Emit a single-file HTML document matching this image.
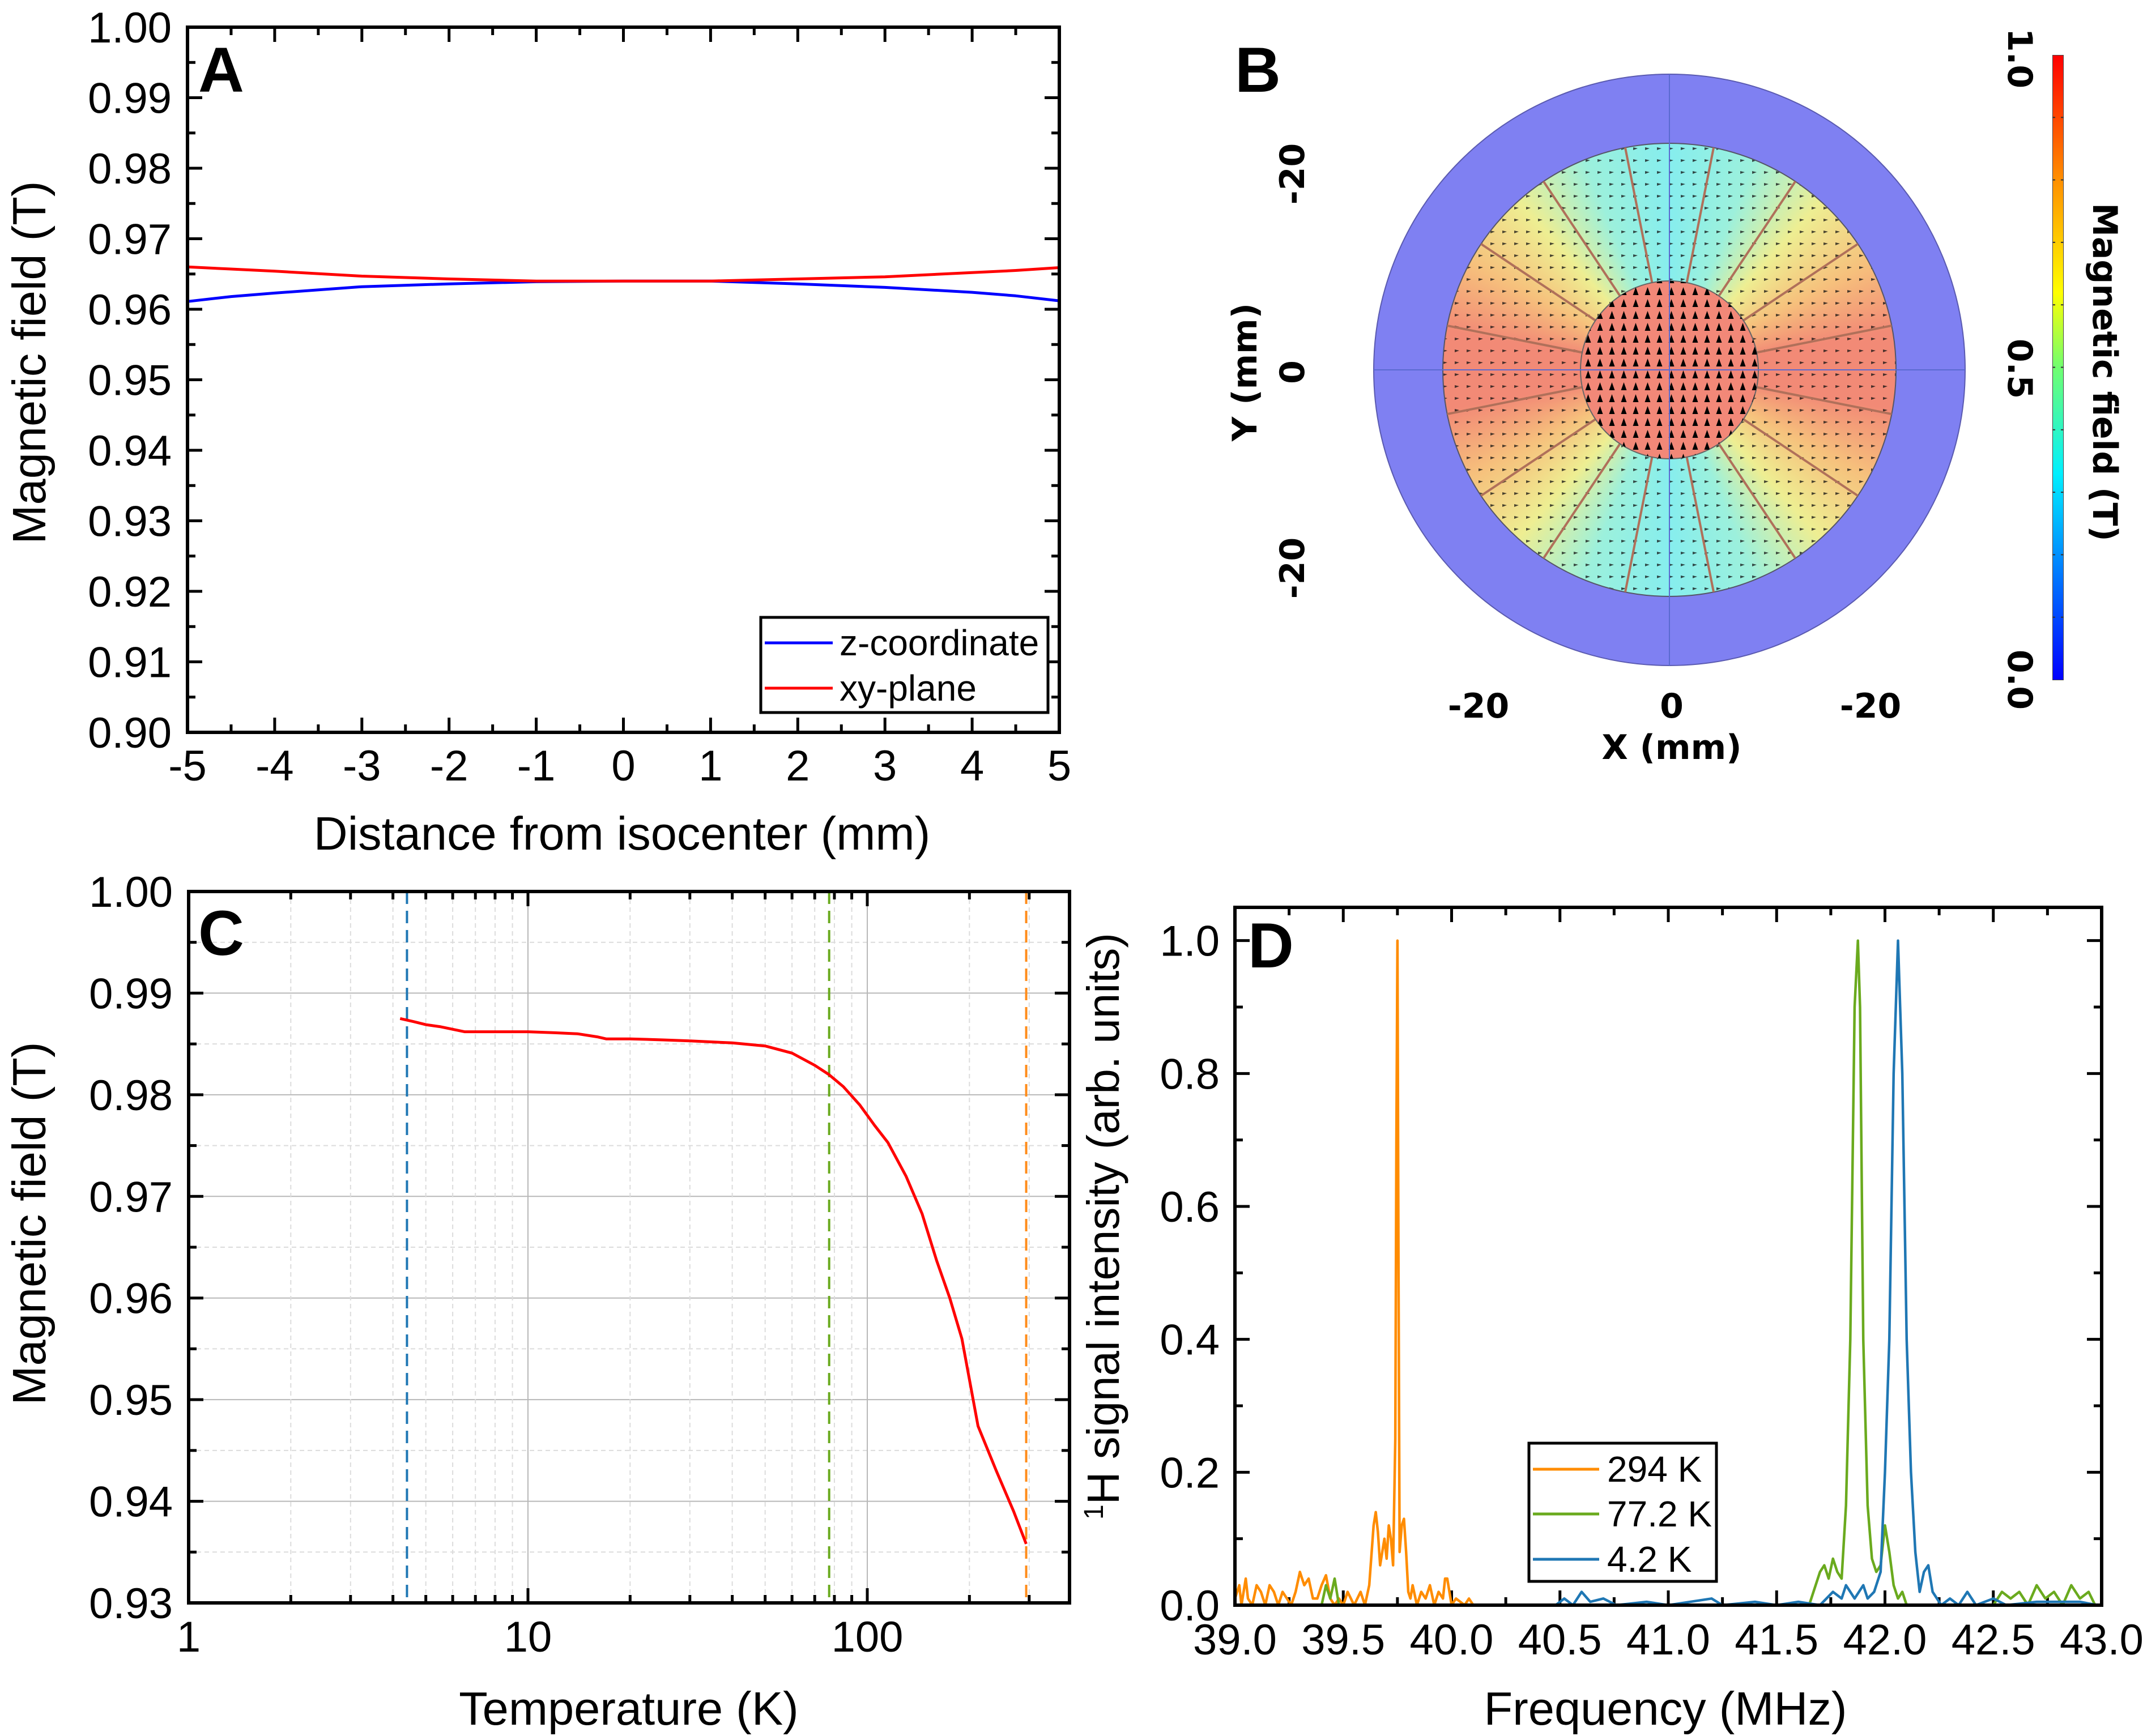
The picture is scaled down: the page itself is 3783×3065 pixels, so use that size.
<!DOCTYPE html>
<html><head><meta charset="utf-8"><style>
html,body{margin:0;padding:0;background:#fff;}
#wrap{position:relative;width:3783px;height:3065px;overflow:hidden;background:#fff;}
svg{position:absolute;left:0;top:0;}
text{font-family:"Liberation Sans",Arial,sans-serif;}
.b{font-family:"DejaVu Sans","Liberation Sans",sans-serif;font-weight:bold;}
</style></head><body>
<div id="wrap">
<svg id="bg" width="3783" height="3065">
  <circle cx="2947" cy="653" r="522" fill="#7f80f2" stroke="#5a5ab0" stroke-width="2"/>
</svg>
<div style="position:absolute;left:2547px;top:253px;width:800px;height:800px;border-radius:50%;background:conic-gradient(from 0deg,#86eeee 0deg,#9cf0dc 22deg,#eeee92 42deg,#f6c07c 62deg,#f28a76 80deg,#f28a76 100deg,#f6c07c 118deg,#eeee92 138deg,#9cf0dc 158deg,#86eeee 180deg,#9cf0dc 202deg,#eeee92 222deg,#f6c07c 242deg,#f28a76 260deg,#f28a76 280deg,#f6c07c 298deg,#eeee92 318deg,#9cf0dc 338deg,#86eeee 360deg);"></div>
<div style="position:absolute;left:3623px;top:97px;width:20px;height:1104px;background:linear-gradient(to top,#0000ff 0%,#0090ff 20%,#00f0ff 33%,#70ff70 50%,#ffff00 62%,#ff9000 80%,#ff0000 100%);border:1px solid #444;box-sizing:border-box;"></div>
<svg id="main" width="3783" height="3065">
  <defs>
    <pattern id="pdisc" width="21" height="21" patternUnits="userSpaceOnUse"><polygon points="10.5,3 5.5,17 15.5,17" fill="#000"/></pattern>
    <pattern id="pring" width="21" height="21" patternUnits="userSpaceOnUse"><polygon points="6,8 14,10 6,13" fill="#111"/></pattern>
  </defs>
  <g id="panelB"></g>
  <g id="panelA"></g>
  <g id="panelC"></g>
  <g id="panelD"></g>
</svg>
</div>
<script>
// ---------- Panel A data ----------
const aX=[-5,-4.5,-4,-3,-2,-1,0,1,2,3,4,4.5,5];
const aXYplane=[0.9660,0.9657,0.9654,0.9647,0.9643,0.9640,0.9640,0.9640,0.9643,0.9646,0.9652,0.9655,0.9659];
const aZcoord=[0.9611,0.9618,0.9623,0.9632,0.9636,0.9639,0.9640,0.9640,0.9636,0.9631,0.9624,0.9619,0.9612];
const aXTicks=[-5,-4,-3,-2,-1,0,1,2,3,4,5];
const aYTicks=[0.90,0.91,0.92,0.93,0.94,0.95,0.96,0.97,0.98,0.99,1.00];
// ---------- Panel C data ----------
const cT=[4.2,4.6,5,5.5,6.5,8,10,12,14,16,17,20,25,30,40,50,60,70,77,85,95,105,115,130,145,160,175,190,212,240,270,294];
const cB=[0.9875,0.9872,0.9869,0.9867,0.9862,0.9862,0.9862,0.9861,0.9860,0.9857,0.9855,0.9855,0.9854,0.9853,0.9851,0.9848,0.9841,0.9829,0.9820,0.9808,0.9790,0.9770,0.9753,0.9720,0.9683,0.9637,0.9600,0.9560,0.9474,0.9430,0.9390,0.9358];
const cMarkers=[4.4,77.2,294];
const cYTicks=[0.93,0.94,0.95,0.96,0.97,0.98,0.99,1.00];
const cXTicks=[1,10,100];
// ---------- Panel D data ----------
const d294=[[39.00,0.01],[39.02,0.03],[39.03,0],[39.05,0.04],[39.06,0.01],[39.08,0],[39.10,0.03],[39.12,0.02],[39.14,0],[39.16,0.03],[39.18,0.02],[39.20,0],[39.22,0.02],[39.24,0.01],[39.26,0],[39.28,0.02],[39.30,0.05],[39.32,0.03],[39.34,0.04],[39.36,0.01],[39.38,0.01],[39.40,0.03],[39.42,0.045],[39.44,0.01],[39.46,0],[39.48,0.01],[39.50,0],[39.52,0.02],[39.55,0],[39.58,0.02],[39.60,0],[39.62,0.03],[39.64,0.12],[39.65,0.14],[39.66,0.11],[39.67,0.06],[39.68,0.08],[39.69,0.10],[39.70,0.07],[39.71,0.12],[39.72,0.10],[39.73,0.06],[39.74,0.25],[39.745,0.7],[39.75,1.0],[39.755,0.5],[39.76,0.08],[39.77,0.12],[39.78,0.13],[39.79,0.08],[39.80,0.02],[39.81,0.01],[39.82,0.03],[39.84,0],[39.86,0.02],[39.88,0.01],[39.90,0.03],[39.92,0],[39.94,0.02],[39.96,0.01],[39.97,0.04],[39.98,0.04],[40.00,0],[40.02,0.01],[40.04,0.005],[40.06,0],[40.08,0.01],[40.10,0]];
const d772=[[39.40,0],[39.42,0.03],[39.44,0.01],[39.46,0.04],[39.48,0],[39.50,0],null,[41.65,0],[41.70,0.05],[41.72,0.06],[41.74,0.04],[41.76,0.07],[41.78,0.05],[41.80,0.04],[41.82,0.15],[41.84,0.4],[41.86,0.9],[41.875,1.0],[41.885,0.9],[41.90,0.4],[41.92,0.15],[41.94,0.07],[41.96,0.05],[41.98,0.06],[42.00,0.12],[42.02,0.08],[42.04,0.03],[42.06,0.01],[42.08,0.02],[42.10,0],null,[42.50,0],[42.54,0.02],[42.58,0.01],[42.62,0.02],[42.66,0],[42.70,0.03],[42.74,0.01],[42.78,0.02],[42.82,0],[42.86,0.03],[42.90,0.01],[42.94,0.02],[42.97,0]];
const d42=[[40.48,0],[40.52,0.01],[40.56,0],[40.60,0.02],[40.64,0.005],[40.70,0.01],[40.76,0],[40.90,0.005],[41.00,0],[41.20,0.01],[41.25,0],[41.40,0.005],[41.50,0],[41.60,0.005],[41.70,0],[41.76,0.02],[41.80,0.01],[41.82,0.03],[41.84,0.02],[41.86,0.01],[41.90,0.03],[41.92,0.01],[41.95,0.02],[41.98,0.05],[42.00,0.2],[42.02,0.4],[42.04,0.8],[42.06,1.0],[42.08,0.8],[42.10,0.4],[42.12,0.2],[42.14,0.08],[42.16,0.02],[42.18,0.05],[42.20,0.06],[42.22,0.02],[42.26,0],[42.30,0.01],[42.34,0],[42.38,0.02],[42.42,0],[42.50,0.01],[42.56,0],[42.70,0.005],[42.90,0.005],[42.98,0]];
const dXTicks=[39.0,39.5,40.0,40.5,41.0,41.5,42.0,42.5,43.0];
const dYTicks=[0.0,0.2,0.4,0.6,0.8,1.0];
// ---------- Panel B data ----------
const bSpokeAngles=[11.25,33.75,56.25,78.75,101.25,123.75,146.25,168.75,191.25,213.75,236.25,258.75,281.25,303.75,326.25,348.75];
const bTickLabels=["-20","0","-20"];
const bBarLabels=["1.0","0.5","0.0"];

const NS="http://www.w3.org/2000/svg";
function mk(parent,tag,attrs){const e=document.createElementNS(NS,tag);for(const k in attrs)e.setAttribute(k,attrs[k]);parent.appendChild(e);return e;}
function txt(parent,x,y,s,size,anchor,extra){const t=mk(parent,'text',Object.assign({x:x,y:y,'font-size':size,'text-anchor':anchor||'middle',fill:'#000'},extra||{}));t.textContent=s;return t;}

function frame(g,L,R,T,B){
  const r=mk(g,'rect',{x:L,y:T,width:R-L,height:B-T,fill:'none',stroke:'#000','stroke-width':6});
  
  
}
function tick(g,x1,y1,x2,y2){const l=mk(g,'line',{x1:x1,y1:y1,x2:x2,y2:y2,stroke:'#000','stroke-width':5});}
function polyline(g,pts,color,w,name){
  const l=mk(g,'polyline',{points:pts.map(p=>p[0].toFixed(1)+','+p[1].toFixed(1)).join(' '),fill:'none',stroke:color,'stroke-width':w,'stroke-linejoin':'round'});
  
  
  return l;
}

// ========== Panel A ==========
(function(){
  const g=document.getElementById('panelA');
  const L=331,R=1870,T=48,B=1293;
  const sx=v=>L+(v+5)/10*(R-L), sy=v=>B-(v-0.90)/0.10*(B-T);
  for(let i=0;i<=20;i++){const v=-5+i*0.5,x=sx(v),len=(i%2==0)?26:14;tick(g,x,B,x,B-len);tick(g,x,T,x,T+len);}
  for(let i=0;i<=20;i++){const v=0.90+i*0.005,y=sy(v),len=(i%2==0)?26:14;tick(g,L,y,L+len,y);tick(g,R,y,R-len,y);}
  aXTicks.forEach(v=>{const t=txt(g,sx(v),1378,String(v),76);});
  aYTicks.forEach(v=>{const t=txt(g,303,sy(v)+27,v.toFixed(2),76,'end');});
  polyline(g,aX.map((x,i)=>[sx(x),sy(aZcoord[i])]),'#0000ff',5,'z-coordinate-line');
  polyline(g,aX.map((x,i)=>[sx(x),sy(aXYplane[i])]),'#ff0000',5,'xy-plane-line');
  frame(g,L,R,T,B);
  let t=txt(g,1098,1500,'Distance from isocenter (mm)',83);
  t=txt(g,0,0,'Magnetic field (T)',83,'middle',{transform:'translate(80,640) rotate(-90)'});
  t=txt(g,350,162,'A',112,'start',{'font-weight':'bold'});
  const lg=mk(g,'g',{});
  mk(lg,'rect',{x:1343,y:1090,width:507,height:168,fill:'#fff',stroke:'#000','stroke-width':5});
  mk(lg,'line',{x1:1350,y1:1135,x2:1470,y2:1135,stroke:'#0000ff','stroke-width':5});
  mk(lg,'line',{x1:1350,y1:1215,x2:1470,y2:1215,stroke:'#ff0000','stroke-width':5});
  t=txt(lg,1482,1157,'z-coordinate',64,'start');
  t=txt(lg,1482,1237,'xy-plane',64,'start');
})();

// ========== Panel C ==========
(function(){
  const g=document.getElementById('panelC');
  const L=333,R=1888,T=1574,B=2830,dec=599;
  const sx=v=>L+Math.log10(v)*dec, sy=v=>B-(v-0.93)/0.07*(B-T);
  for(let i=1;i<14;i++){const v=0.93+i*0.005,y=sy(v);const major=i%2==0;
    const l=mk(g,'line',{x1:L,y1:y,x2:R,y2:y,stroke:major?'#b8b8b8':'#dcdcdc','stroke-width':2,'stroke-dasharray':major?'none':'8,6'});}
  [1,10,100].forEach(d=>{for(let k=1;k<10;k++){const v=d*k;if(v<=1||sx(v)>=R)continue;const x=sx(v);const major=k==1;
    const l=mk(g,'line',{x1:x,y1:T,x2:x,y2:B,stroke:major?'#b8b8b8':'#dcdcdc','stroke-width':2,'stroke-dasharray':major?'none':'8,6'});
    const len=major?26:14;tick(g,x,B,x,B-len);tick(g,x,T,x,T+len);}});
  for(let i=0;i<=14;i++){const y=sy(0.93+i*0.005),len=(i%2==0)?26:14;tick(g,L,y,L+len,y);tick(g,R,y,R-len,y);}
  const mcol=['#1f77b4','#6aaa1e','#ff8c1a'];
  cMarkers.forEach((m,i)=>{const l=mk(g,'line',{x1:sx(m),y1:T,x2:sx(m),y2:B,stroke:mcol[i],'stroke-width':4,'stroke-dasharray':'22,12'});});
  polyline(g,cT.map((t,i)=>[sx(t),sy(cB[i])]),'#ff0000',5,'field-vs-temperature-line');
  frame(g,L,R,T,B);
  cXTicks.forEach(v=>{const t=txt(g,sx(v),2916,String(v),76);});
  cYTicks.forEach(v=>{const t=txt(g,305,sy(v)+27,v.toFixed(2),76,'end');});
  let t=txt(g,1110,3045,'Temperature (K)',83);
  t=txt(g,0,0,'Magnetic field (T)',83,'middle',{transform:'translate(80,2160) rotate(-90)'});
  t=txt(g,350,1686,'C',112,'start',{'font-weight':'bold'});
})();

// ========== Panel D ==========
(function(){
  const g=document.getElementById('panelD');
  const L=2180,R=3710,T=1602,B=2834;
  const sx=v=>L+(v-39)/4*(R-L), sy=v=>B-v/1.05*(B-T);
  for(let i=0;i<=16;i++){const x=sx(39+i*0.25),len=(i%2==0)?26:14;tick(g,x,B,x,B-len);tick(g,x,T,x,T+len);}
  for(let i=0;i<=10;i++){const y=sy(i*0.1),len=(i%2==0)?26:14;tick(g,L,y,L+len,y);tick(g,R,y,R-len,y);}
  function series(data,color,name){let seg=[];const segs=[];data.forEach(p=>{if(p===null){if(seg.length)segs.push(seg);seg=[];}else seg.push([sx(p[0]),sy(p[1])]);});if(seg.length)segs.push(seg);segs.forEach(s=>polyline(g,s,color,4.5,name));}
  series(d294,'#ff8c00','spectrum-294k');
  series(d772,'#6aaa1e','spectrum-77k');
  series(d42,'#1f77b4','spectrum-4k');
  frame(g,L,R,T,B);
  dXTicks.forEach(v=>{const t=txt(g,sx(v),2921,v.toFixed(1),76);});
  dYTicks.forEach(v=>{const t=txt(g,2153,sy(v)+27,v.toFixed(1),76,'end');});
  let t=txt(g,2940,3045,'Frequency (MHz)',83);
  t=mk(g,'text',{x:0,y:0,'font-size':80,'text-anchor':'middle',fill:'#000',transform:'translate(1975,2165) rotate(-90)'});
  
  
  const ts=mk(t,'tspan',{'font-size':48,dy:-28});ts.textContent='1';
  const ts2=mk(t,'tspan',{dy:28});ts2.textContent='H signal intensity (arb. units)';
  t=txt(g,2203,1708,'D',112,'start',{'font-weight':'bold'});
  const lg=mk(g,'g',{});
  mk(lg,'rect',{x:2699,y:2548,width:331,height:244,fill:'#fff',stroke:'#000','stroke-width':5});
  [['294 K','#ff8c00',2594],['77.2 K','#6aaa1e',2673],['4.2 K','#1f77b4',2753]].forEach(e=>{
    mk(lg,'line',{x1:2706,y1:e[2],x2:2823,y2:e[2],stroke:e[1],'stroke-width':5});
    const tt=txt(lg,2837,e[2]+22,e[0],64,'start');});
})();

// ========== Panel B ==========
(function(){
  const g=document.getElementById('panelB');
  const cx=2947,cy=653,Ro=400,Ri=157,Rout=522;
  const ar=mk(g,'circle',{cx:cx,cy:cy,r:Ro,fill:'url(#pring)',opacity:0.75});
  mk(g,'circle',{cx:cx,cy:cy,r:Ro,fill:'none',stroke:'#556','stroke-width':2});
  bSpokeAngles.forEach(a=>{const r=a*Math.PI/180;
    const l=mk(g,'line',{x1:cx+Ri*Math.sin(r),y1:cy-Ri*Math.cos(r),x2:cx+Ro*Math.sin(r),y2:cy-Ro*Math.cos(r),stroke:'#b0705a','stroke-width':4});
    
    });
  const d=mk(g,'circle',{cx:cx,cy:cy,r:Ri,fill:'#f28878',stroke:'#666','stroke-width':2});
  mk(g,'circle',{cx:cx,cy:cy,r:Ri,fill:'url(#pdisc)'});
  mk(g,'line',{x1:cx-Rout,y1:cy,x2:cx+Rout,y2:cy,stroke:'#5a6ad0','stroke-width':2});
  mk(g,'line',{x1:cx,y1:cy-Rout,x2:cx,y2:cy+Rout,stroke:'#5a6ad0','stroke-width':2});
  const xs=[2610,2951,3302];
  xs.forEach((x,i)=>{const t=txt(g,x,1267,bTickLabels[i],60,'middle',{class:'b'});});
  const ys=[307,657,1003];
  ys.forEach((y,i)=>{const t=txt(g,0,0,bTickLabels[i],60,'middle',{class:'b',transform:'translate(2302,'+y+') rotate(-90)'});});
  let t=txt(g,2951,1340,'X (mm)',60,'middle',{class:'b'});
  t=txt(g,0,0,'Y (mm)',60,'middle',{class:'b',transform:'translate(2218,657) rotate(-90)'});
  const bys=[103,651,1200];
  bys.forEach((y,i)=>{const t=txt(g,0,0,bBarLabels[i],60,'middle',{class:'b',transform:'translate(3545,'+y+') rotate(90)'});});
  [0.1,0.2,0.3,0.4,0.5,0.6,0.7,0.8,0.9].forEach(v=>{const y=1200-v*1103;mk(g,'line',{x1:3623,y1:y,x2:3628,y2:y,stroke:'#333','stroke-width':2});mk(g,'line',{x1:3638,y1:y,x2:3643,y2:y,stroke:'#333','stroke-width':2});});
  t=txt(g,0,0,'Magnetic field (T)',60,'middle',{class:'b',transform:'translate(3695,657) rotate(90)'});
  t=txt(g,2180,162,'B',112,'start',{'font-weight':'bold'});
})();
</script>
</body></html>
